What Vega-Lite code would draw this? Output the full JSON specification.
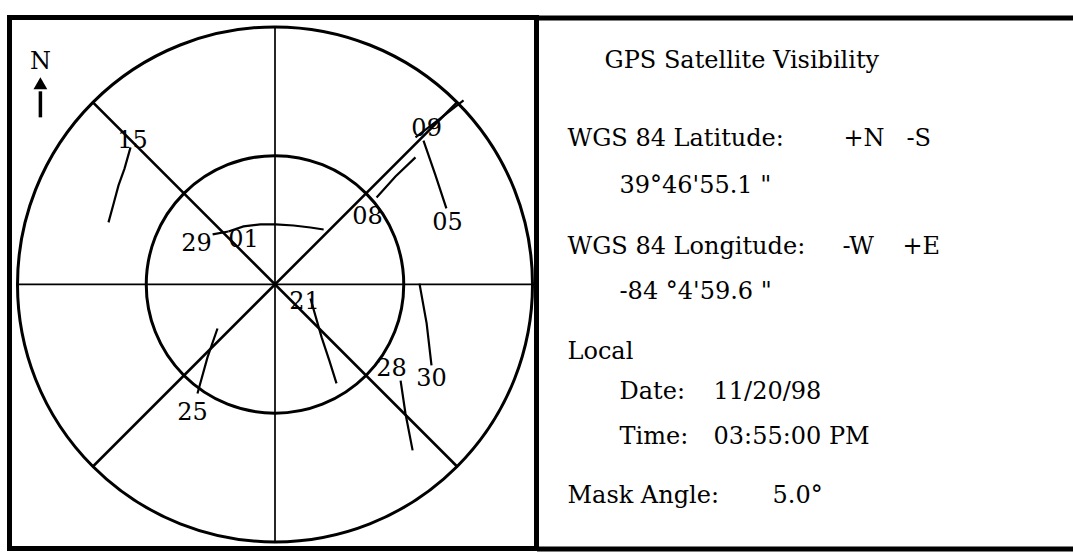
{
  "$schema": "https://vega.github.io/schema/vega-lite/v6.json",
  "autosize": {"type": "pad"},
  "padding": {"left": 6.5, "top": 14.5, "right": 0, "bottom": 1.5},
  "background": "white",
  "spacing": 0,
  "bounds": "flush",
  "config": {"view": {"stroke": "black", "strokeWidth": 5}, "font": "DejaVu Serif"},
  "datasets": {
    "rings": [
      {"circle": "horizon (0° elevation)", "zenith": 90},
      {"circle": "45° elevation", "zenith": 45}
    ],
    "spokes": [
      {"azimuth": "0-180", "kind": "cardinal", "xa": 0, "ya": 90, "xb": 0, "yb": -90},
      {"azimuth": "90-270", "kind": "cardinal", "xa": -90, "ya": 0, "xb": 90, "yb": 0},
      {"azimuth": "45-225", "kind": "diagonal", "xa": -63.64, "ya": -63.64, "xb": 63.64, "yb": 63.64},
      {"azimuth": "135-315", "kind": "diagonal", "xa": -63.64, "ya": 63.64, "xb": 63.64, "yb": -63.64}
    ],
    "tracks": [
      {"prn": "15", "seq": 1, "east": -50.5, "north": 47.9},
      {"prn": "15", "seq": 2, "east": -52.6, "north": 40.5},
      {"prn": "15", "seq": 3, "east": -54.7, "north": 34.6},
      {"prn": "15", "seq": 4, "east": -56.4, "north": 28.3},
      {"prn": "15", "seq": 5, "east": -58.2, "north": 21.7},
      {"prn": "09", "seq": 1, "east": 49.1, "north": 51.4},
      {"prn": "09", "seq": 2, "east": 57.8, "north": 58.0},
      {"prn": "09", "seq": 3, "east": 65.9, "north": 64.3},
      {"prn": "05", "seq": 1, "east": 51.9, "north": 50.3},
      {"prn": "05", "seq": 2, "east": 56.1, "north": 38.1},
      {"prn": "05", "seq": 3, "east": 59.9, "north": 26.6},
      {"prn": "08", "seq": 1, "east": 35.5, "north": 30.4},
      {"prn": "08", "seq": 2, "east": 42.1, "north": 37.7},
      {"prn": "08", "seq": 3, "east": 49.1, "north": 44.4},
      {"prn": "29", "seq": 1, "east": -21.8, "north": 17.5},
      {"prn": "29", "seq": 2, "east": -16.3, "north": 18.5},
      {"prn": "01", "seq": 1, "east": -16.3, "north": 18.5},
      {"prn": "01", "seq": 2, "east": -11.0, "north": 20.3},
      {"prn": "01", "seq": 3, "east": -5.1, "north": 21.0},
      {"prn": "01", "seq": 4, "east": 0.2, "north": 21.0},
      {"prn": "01", "seq": 5, "east": 6.5, "north": 20.6},
      {"prn": "01", "seq": 6, "east": 12.4, "north": 19.9},
      {"prn": "01", "seq": 7, "east": 17.0, "north": 19.2},
      {"prn": "21", "seq": 1, "east": 12.4, "north": -4.9},
      {"prn": "21", "seq": 2, "east": 16.3, "north": -18.5},
      {"prn": "21", "seq": 3, "east": 19.0, "north": -26.6},
      {"prn": "21", "seq": 4, "east": 21.5, "north": -34.6},
      {"prn": "25", "seq": 1, "east": -20.1, "north": -15.4},
      {"prn": "25", "seq": 2, "east": -23.6, "north": -25.5},
      {"prn": "25", "seq": 3, "east": -27.1, "north": -38.1},
      {"prn": "28", "seq": 1, "east": 43.9, "north": -33.6},
      {"prn": "28", "seq": 2, "east": 45.6, "north": -45.1},
      {"prn": "28", "seq": 3, "east": 48.1, "north": -58.0},
      {"prn": "30", "seq": 1, "east": 50.5, "north": 0.3},
      {"prn": "30", "seq": 2, "east": 53.0, "north": -13.6},
      {"prn": "30", "seq": 3, "east": 54.7, "north": -28.3}
    ],
    "labels": [
      {"prn": "15", "east": -49.8, "north": 50.3},
      {"prn": "09", "east": 53.0, "north": 54.5},
      {"prn": "05", "east": 60.3, "north": 21.3},
      {"prn": "08", "east": 32.3, "north": 23.4},
      {"prn": "29", "east": -27.4, "north": 14.3},
      {"prn": "01", "east": -11.0, "north": 15.7},
      {"prn": "21", "east": 10.3, "north": -6.3},
      {"prn": "25", "east": -28.8, "north": -45.1},
      {"prn": "28", "east": 40.7, "north": -29.7},
      {"prn": "30", "east": 54.7, "north": -32.9}
    ],
    "compass": [
      {"label": "N", "east": -82.0, "north": 77.9, "shaftFrom": 58.4, "shaftTo": 67.5, "head": 70.3}
    ],
    "info": [
      {"text": "GPS Satellite Visibility", "x": 68, "y": 50.5},
      {"text": "WGS 84 Latitude:", "x": 31, "y": 128},
      {"text": "+N", "x": 307, "y": 128},
      {"text": "-S", "x": 370, "y": 128},
      {"text": "39°46'55.1 \"", "x": 83, "y": 175},
      {"text": "WGS 84 Longitude:", "x": 31, "y": 236},
      {"text": "-W", "x": 306, "y": 236},
      {"text": "+E", "x": 366, "y": 236},
      {"text": "-84 °4'59.6 \"", "x": 83, "y": 281},
      {"text": "Local", "x": 31, "y": 341},
      {"text": "Date:", "x": 83, "y": 381},
      {"text": "11/20/98", "x": 177, "y": 381},
      {"text": "Time:", "x": 83, "y": 426},
      {"text": "03:55:00 PM", "x": 177, "y": 426},
      {"text": "Mask Angle:", "x": 31, "y": 485},
      {"text": "5.0°", "x": 236, "y": 485}
    ]
  },
  "hconcat": [
    {
      "width": 527,
      "height": 531,
      "layer": [
        {
          "data": {"name": "rings"},
          "mark": {"type": "point", "shape": "circle", "filled": false, "color": "black", "strokeWidth": 3, "opacity": 1},
          "encoding": {
            "x": {"datum": 0, "type": "quantitative", "scale": {"domain": [-92.8, 91.4], "nice": false, "zero": false}, "axis": null},
            "y": {"datum": 0, "type": "quantitative", "scale": {"domain": [-92.3, 93.3], "nice": false, "zero": false}, "axis": null},
            "size": {"field": "zenith", "type": "quantitative", "scale": {"type": "pow", "exponent": 2, "domain": [0, 90], "range": [0, 265225]}, "legend": null}
          }
        },
        {
          "data": {"name": "spokes"},
          "transform": [{"filter": "datum.kind == 'cardinal'"}],
          "mark": {"type": "rule", "color": "black", "strokeWidth": 1.7},
          "encoding": {
            "x": {"field": "xa", "type": "quantitative", "scale": {"domain": [-92.8, 91.4], "nice": false, "zero": false}, "axis": null},
            "y": {"field": "ya", "type": "quantitative", "scale": {"domain": [-92.3, 93.3], "nice": false, "zero": false}, "axis": null},
            "x2": {"field": "xb"},
            "y2": {"field": "yb"}
          }
        },
        {
          "data": {"name": "spokes"},
          "transform": [{"filter": "datum.kind == 'diagonal'"}],
          "mark": {"type": "rule", "color": "black", "strokeWidth": 2.6},
          "encoding": {
            "x": {"field": "xa", "type": "quantitative", "scale": {"domain": [-92.8, 91.4], "nice": false, "zero": false}, "axis": null},
            "y": {"field": "ya", "type": "quantitative", "scale": {"domain": [-92.3, 93.3], "nice": false, "zero": false}, "axis": null},
            "x2": {"field": "xb"},
            "y2": {"field": "yb"}
          }
        },
        {
          "data": {"name": "tracks"},
          "mark": {"type": "line", "color": "black", "strokeWidth": 2.2},
          "encoding": {
            "x": {"field": "east", "type": "quantitative", "scale": {"domain": [-92.8, 91.4], "nice": false, "zero": false}, "axis": null},
            "y": {"field": "north", "type": "quantitative", "scale": {"domain": [-92.3, 93.3], "nice": false, "zero": false}, "axis": null},
            "detail": {"field": "prn"},
            "order": {"field": "seq", "type": "quantitative"}
          }
        },
        {
          "data": {"name": "labels"},
          "mark": {"type": "text", "font": "DejaVu Serif", "fontSize": 24, "align": "center", "baseline": "middle", "color": "black"},
          "encoding": {
            "x": {"field": "east", "type": "quantitative", "scale": {"domain": [-92.8, 91.4], "nice": false, "zero": false}, "axis": null},
            "y": {"field": "north", "type": "quantitative", "scale": {"domain": [-92.3, 93.3], "nice": false, "zero": false}, "axis": null},
            "text": {"field": "prn"}
          }
        },
        {
          "data": {"name": "compass"},
          "mark": {"type": "text", "font": "DejaVu Serif", "fontSize": 24, "align": "center", "baseline": "middle", "color": "black"},
          "encoding": {
            "x": {"field": "east", "type": "quantitative", "scale": {"domain": [-92.8, 91.4], "nice": false, "zero": false}, "axis": null},
            "y": {"field": "north", "type": "quantitative", "scale": {"domain": [-92.3, 93.3], "nice": false, "zero": false}, "axis": null},
            "text": {"field": "label"}
          }
        },
        {
          "data": {"name": "compass"},
          "mark": {"type": "rule", "color": "black", "strokeWidth": 3.5},
          "encoding": {
            "x": {"field": "east", "type": "quantitative", "scale": {"domain": [-92.8, 91.4], "nice": false, "zero": false}, "axis": null},
            "y": {"field": "shaftFrom", "type": "quantitative", "scale": {"domain": [-92.3, 93.3], "nice": false, "zero": false}, "axis": null},
            "y2": {"field": "shaftTo"}
          }
        },
        {
          "data": {"name": "compass"},
          "mark": {"type": "point", "shape": "triangle-up", "filled": true, "color": "black", "opacity": 1, "size": 190},
          "encoding": {
            "x": {"field": "east", "type": "quantitative", "scale": {"domain": [-92.8, 91.4], "nice": false, "zero": false}, "axis": null},
            "y": {"field": "head", "type": "quantitative", "scale": {"domain": [-92.3, 93.3], "nice": false, "zero": false}, "axis": null}
          }
        }
      ]
    },
    {
      "width": 537,
      "height": 531,
      "view": {"stroke": null},
      "data": {"name": "info"},
      "mark": {"type": "text", "align": "left", "baseline": "alphabetic", "font": "DejaVu Serif", "fontSize": 24, "color": "black"},
      "encoding": {
        "x": {"field": "x", "type": "quantitative", "scale": {"domain": [0, 537], "nice": false, "zero": false}, "axis": null},
        "y": {"field": "y", "type": "quantitative", "scale": {"domain": [531, 0], "nice": false, "zero": false}, "axis": {"values": [0, 531], "grid": true, "gridColor": "black", "gridWidth": 5, "gridOpacity": 1, "labels": false, "ticks": false, "domain": false, "title": null}},
        "text": {"field": "text"}
      }
    }
  ]
}
